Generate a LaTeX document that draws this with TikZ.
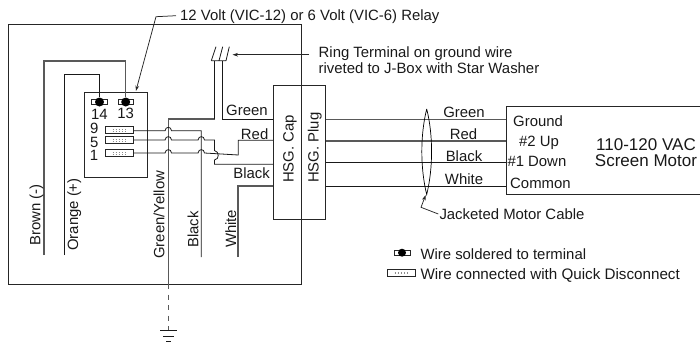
\documentclass[tikz,border=0pt]{standalone}
\usepackage{fontspec}
\setmainfont{Liberation Sans}
\usetikzlibrary{arrows.meta,calc}
\newcommand\hh[2]{-- (#1-3.2,#2) .. controls (#1-3,#2-4.5) and (#1+3,#2-4.5) .. (#1+3.2,#2)}
\tikzset{
  x=1pt,y=-1pt,
  wire/.style={draw=black!90,line width=0.8pt},
  gwire/.style={draw=black!65,line width=1.05pt},
  box/.style={draw=black!85,line width=0.9pt},
  lead/.style={draw=black!85,line width=0.75pt,-{Stealth[length=5.5pt,width=3.6pt]}},
  txt/.style={inner sep=0pt,font=\fontsize{14.9}{16}\selectfont,text=black!90,text height=10.7pt,text depth=0pt},
  tl/.style={txt,anchor=west},
  tc/.style={txt,anchor=center},
  tr/.style={txt,anchor=east},
  big/.style={txt,anchor=center,font=\fontsize{17}{18}\selectfont,text height=12pt},
  vert/.style={txt,rotate=90,anchor=west},
  qd/.style={draw=black!85,line width=0.7pt,fill=white,minimum width=27.5pt,minimum height=6.5pt,inner sep=0pt},
  tab/.style={draw=black!85,line width=0.7pt,fill=white,minimum width=15.5pt,minimum height=5pt,inner sep=0pt},
  blob/.style={circle,fill=black,inner sep=0pt,minimum size=9pt},
}
\newcommand\qdots[1]{\draw[black!45,line width=0.5pt,dash pattern=on 1pt off 2.2pt] ($(#1)+(-7,-0.8)$) -- ($(#1)+(7,-0.8)$) ($(#1)+(-7,0.9)$) -- ($(#1)+(7,0.9)$);}
\begin{document}
\begin{tikzpicture}
\useasboundingbox (0,0) rectangle (700,343);
% enclosures
\node[box,minimum width=293.5pt,minimum height=260.3pt,inner sep=0pt,anchor=north west] (jbox) at (7.6,24) {};
\node[box,minimum width=63.5pt,minimum height=85pt,inner sep=0pt,anchor=north west] (relay) at (83.5,92) {};
\node[box,minimum width=28pt,minimum height=133.5pt,inner sep=0pt,anchor=north west] (cap) at (273,85) {};
\node[box,minimum width=24pt,minimum height=133.5pt,inner sep=0pt,anchor=north west] (plug) at (301,85) {};
\draw[box] (700,106) -- (506,106) -- (506,194) -- (700,194);
\coordinate (motorL) at (506,150);
% terminals
\node[tab] (t14) at (99.5,102) {};
\node[tab] (t13) at (125.7,102) {};
\node[blob] (b14) at (99.5,102) {};
\node[blob] (b13) at (125.7,102) {};
\node[qd] (q9) at (119.5,130) {};
\node[qd] (q5) at (119.5,140) {};
\node[qd] (q1) at (119.5,153) {};
\qdots{q9}\qdots{q5}\qdots{q1}
\node[tc] (n14) at (99.5,114) {14};
\node[tc] (n13) at (125.7,113) {13};
\node[tc] (n9) at (94.3,128.3) {9};
\node[tc] (n5) at (94.3,141.7) {5};
\node[tc] (n1) at (94,155) {1};
% relay wires
\draw[gwire] (44,255) -- (44,61) -- (125.7,61) -- (b13);
\draw[wire] (64.3,255) -- (64.3,74) -- (99.5,74) -- (b14);
% ground terminal
\coordinate (gL) at (214.5,61);
\coordinate (gR) at (222.3,61);
\draw[wire] (211.3,60.7) -- (216,46.7) (219,60.7) -- (222.7,46.7) (226,60.7) -- (229.3,46.7) (211.3,60.7) -- (226,60.7);
\draw[gwire] (168.3,284) -- (168.3,119) -- (214.5,119);
\draw[wire] (214.5,119) -- (gL);
\draw[wire] (gR) -- (222.3,119) -- (cap.west |- 0,119);
% quick disconnect wires
\draw[wire] (q9.east |- 0,130.7) \hh{168.3}{130.7} -- (201.3,130.7) -- (201.3,257);
\draw[wire] (q5.east) \hh{168.3}{140} \hh{201.3}{140} -- (214.5,140) -- (214.5,150.5) .. controls (219.5,151.5) and (219.5,159.5) .. (214.5,160) -- (214.5,164.3) -- (cap.west |- 0,164.3);
\draw[wire] (q1.east) \hh{168.3}{153} \hh{201.3}{153} -- (238.3,155) -- (238.3,140.3) -- (cap.west |- 0,140.3);
\draw[gwire] (238,257) -- (238,186) -- (cap.west |- 0,186);
% cable
\foreach \y/\n/\s in {119.5/a/gwire,141/b/gwire,162/c/wire,186/d/wire}{
  \coordinate (p\n) at (plug.east |- 0,\y);
  \coordinate (m\n) at (motorL |- 0,\y);
  \draw[\s] (p\n) -- (m\n);
}
\draw[black,line width=0.7pt] (426.7,109) .. controls (420.2,135) and (420.2,168) .. (426.7,194.5) .. controls (433.2,168) and (433.2,135) .. (426.7,109);
% ground symbol
\draw[gwire,dash pattern=on 5pt off 5.5pt] (168.3,284) -- (168.3,331);
\draw[wire] (160,330) -- (177,330) (163.3,336) -- (174,336) (166,341) -- (171,341);
% leaders
\coordinate (ldrA) at (176,15.7);
\draw[lead] (ldrA) -- (156,16.7) -- ($(relay.north east)+(-12,-1)$);
\coordinate (ldrB) at (309,54.7);
\draw[lead] (ldrB) -- (232.5,54.7);
\coordinate (ldrC) at (438.3,214);
\draw[lead] (ldrC) -- (421,207.3) -- (425.7,195);
% texts
\node[tl] (tRelay) at (180,15) {12 Volt (VIC-12) or 6 Volt (VIC-6) Relay};
\node[tl] (tRing) at (318.5,52.3) {Ring Terminal on ground wire};
\node[tl] (tRiv) at (318.5,67.7) {riveted to J-Box with Star Washer};
\node[tl] (lGreen) at (226,110) {Green};
\node[tr] (lRed) at (268.5,134) {Red};
\node[tr] (lBlack) at (270,172.7) {Black};
\node[vert] (vBrown) at (35,246) {Brown (-)};
\node[vert] (vOrange) at (72.7,251) {Orange (+)};
\node[vert] (vGY) at (159,259) {Green/Yellow};
\node[vert] (vBlack) at (193,248) {Black};
\node[vert] (vWhite) at (230.7,248) {White};
\node[vert] (vCap) at (288.3,183) {HSG. Cap};
\node[vert] (vPlug) at (313.3,183) {HSG. Plug};
\node[tc] (cGreen) at (464,111.7) {Green};
\node[tc] (cRed) at (463.5,134) {Red};
\node[tc] (cBlack) at (464,155.7) {Black};
\node[tc] (cWhite) at (464,179) {White};
\node[tl] (mG) at (513,120.7) {Ground};
\node[tl] (mU) at (519,141) {\#2 Up};
\node[tl] (mD) at (507.3,161.5) {\#1 Down};
\node[tl] (mC) at (510,182.7) {Common};
\node[big] (mV) at (646,144) {110-120 VAC};
\node[big] (mS) at (646,160.5) {Screen Motor};
\node[tl] (tJack) at (439.3,214) {Jacketed Motor Cable};
% legend
\node[tab,minimum width=16pt] (lgS) at (402,252.7) {};
\node[blob,minimum size=8pt] (lgB) at (402,252.7) {};
\node[tl] (tSold) at (420.3,254) {Wire soldered to terminal};
\node[qd,minimum width=28.5pt] (lgQ) at (401.5,272.7) {};
\qdots{lgQ}
\node[tl,font=\fontsize{15.2}{16}\selectfont] (tQuick) at (420.3,274) {Wire connected with Quick Disconnect};
\end{tikzpicture}
\end{document}
